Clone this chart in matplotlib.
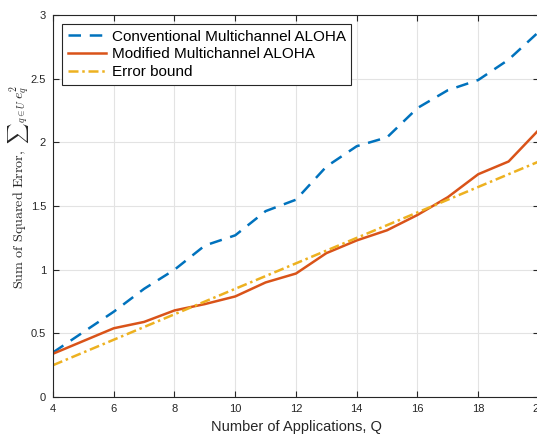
import matplotlib
matplotlib.use("Agg")
import matplotlib.pyplot as plt

plt.rcParams['font.family'] = ['Liberation Sans', 'DejaVu Sans']
plt.rcParams['mathtext.fontset'] = 'cm'

# number of applications
Q = [4, 5, 6, 7, 8, 9, 10, 11, 12, 13, 14, 15, 16, 17, 18, 19, 20]

conventional = [0.35, 0.51, 0.67, 0.85, 1.00, 1.19, 1.27, 1.46, 1.55, 1.81, 1.97, 2.04, 2.27, 2.41, 2.49, 2.65, 2.87]
modified = [0.34, 0.44, 0.54, 0.59, 0.68, 0.73, 0.79, 0.90, 0.97, 1.13, 1.23, 1.31, 1.43, 1.57, 1.75, 1.85, 2.10]
error_bound = [0.25, 0.35, 0.45, 0.55, 0.65, 0.75, 0.85, 0.95, 1.05, 1.15, 1.25, 1.35, 1.45, 1.55, 1.65, 1.75, 1.85]

fig = plt.figure(figsize=(5.37, 4.37), dpi=100)
ax = fig.add_axes([0.0987, 0.0915, 0.905, 0.874])

ax.plot(Q, conventional, linestyle=(0, (5, 3.5)), color='#0072BD', linewidth=1.8,
        label='Conventional Multichannel ALOHA')
ax.plot(Q, modified, linestyle='-', color='#D95319', linewidth=1.8,
        label='Modified Multichannel ALOHA')
ax.plot(Q, error_bound, linestyle=(0, (4, 1.5, 1, 1.5)), color='#EDB120', linewidth=1.8,
        label='Error bound')

ax.set_xlim(4, 20)
ax.set_ylim(0, 3)
ax.set_xticks(range(4, 21, 2))
ax.set_yticks([0, 0.5, 1, 1.5, 2, 2.5, 3])
ax.set_yticklabels(['0', '0.5', '1', '1.5', '2', '2.5', '3'])

ax.grid(True, color='#e3e3e3', linewidth=0.8)
ax.set_axisbelow(True)
ax.tick_params(direction='in', top=True, right=True, length=4, width=0.8,
               labelsize=8, colors='#262626', pad=5)
for s in ax.spines.values():
    s.set_color('#262626')
    s.set_linewidth(0.8)

ax.set_xlabel('Number of Applications, Q', fontsize=10.5, color='#262626', labelpad=4)
ax.set_ylabel(r'$\mathrm{Sum\ of\ Squared\ Error},\ {\sum}_{q\in U}\, e_q^2$',
              fontsize=10.2, color='#262626')
ax.yaxis.set_label_coords(-0.045, 0.55)

leg = ax.legend(loc='upper left', fontsize=11, handlelength=2.5, handletextpad=0.4,
                borderpad=0.35, labelspacing=0.25, fancybox=False, framealpha=1,
                borderaxespad=0.6)
leg.get_frame().set_edgecolor('#262626')
leg.get_frame().set_linewidth(0.8)

fig.savefig('out.png', dpi=100)
